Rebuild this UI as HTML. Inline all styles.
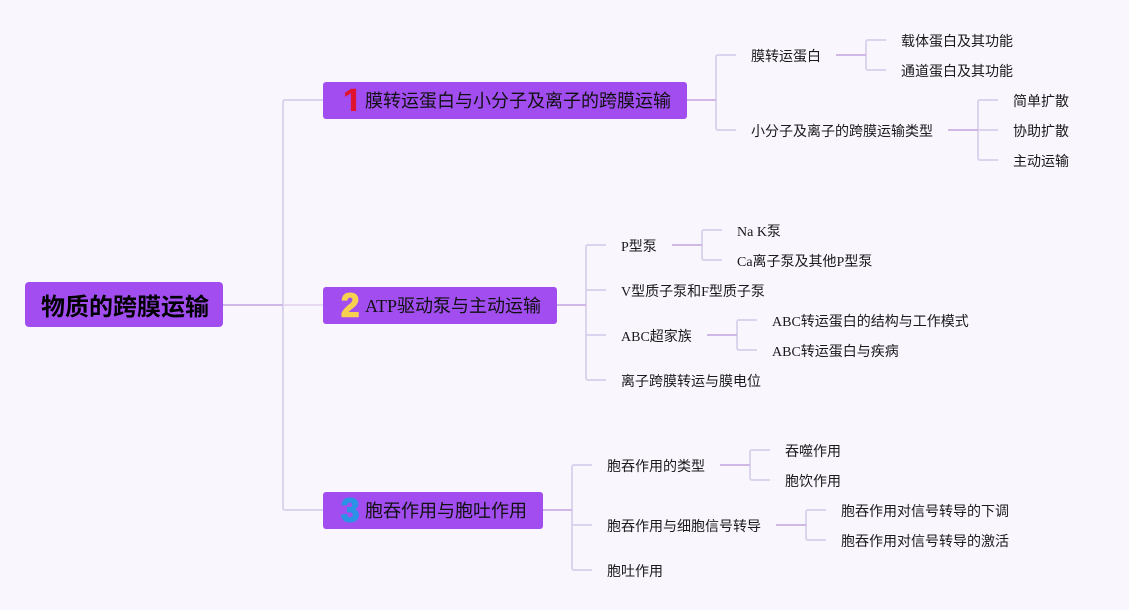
<!DOCTYPE html>
<html><head><meta charset="utf-8">
<style>
html,body{margin:0;padding:0;background:#f9f6fe;width:1129px;height:610px;overflow:hidden}
svg{display:block}
text{font-family:"Liberation Serif","Noto Sans CJK SC",serif;fill:#1a1a1a;font-size:14px}
.m{font-size:18px;fill:#111}
.r{font-size:24px;font-weight:bold;font-family:"Liberation Sans","Noto Sans CJK SC",sans-serif;fill:#000}
.n{font-size:33px;font-weight:bold;font-family:"Liberation Sans","Noto Sans CJK SC",sans-serif;stroke-width:1.4;stroke-linejoin:round}
.l{fill:none;stroke:#d8cfeb;stroke-width:1.7}
.h{fill:none;stroke:#cbb0e2;stroke-width:1.7}
rect{fill:#a14df0}
</style></head><body>
<svg width="1129" height="610" viewBox="0 0 1129 610" xmlns="http://www.w3.org/2000/svg">
<defs><clipPath id="c1"><rect x="345" y="86" width="12" height="25"/></clipPath></defs>
<rect width="1129" height="610" style="fill:#f9f6fe"/>
<!-- root connectors -->
<path class="l" d="M323 100H285Q283 100 283 102V508Q283 510 285 510H323"/>
<path class="l" d="M283 305H323" style="stroke:#e3d5f1"/>
<path class="h" d="M223 305H283"/>
<!-- branch 1 -->
<path class="l" d="M736 55H718Q716 55 716 57V128Q716 130 718 130H736"/>
<path class="h" d="M687 100H716"/>
<path class="l" d="M886 40H868Q866 40 866 42V68Q866 70 868 70H886"/>
<path class="h" d="M836 55H866"/>
<path class="l" d="M998 100H980Q978 100 978 102V158Q978 160 980 160H998M978 130H998"/>
<path class="h" d="M948 130H978"/>
<!-- branch 2 -->
<path class="l" d="M606 245H588Q586 245 586 247V378Q586 380 588 380H606M586 290H606M586 335H606"/>
<path class="h" d="M557 305H586"/>
<path class="l" d="M722 230H704Q702 230 702 232V258Q702 260 704 260H722"/>
<path class="h" d="M672 245H702"/>
<path class="l" d="M757 320H739Q737 320 737 322V348Q737 350 739 350H757"/>
<path class="h" d="M707 335H737"/>
<!-- branch 3 -->
<path class="l" d="M592 465H574Q572 465 572 467V568Q572 570 574 570H592M572 525H592"/>
<path class="h" d="M543 510H572"/>
<path class="l" d="M770 450H752Q750 450 750 452V478Q750 480 752 480H770"/>
<path class="h" d="M720 465H750"/>
<path class="l" d="M826 510H808Q806 510 806 512V538Q806 540 808 540H826"/>
<path class="h" d="M776 525H806"/>
<!-- nodes -->
<rect x="25" y="282" width="198" height="45" rx="4"/>
<text class="r" x="41" y="315">物质的跨膜运输</text>
<rect x="323" y="82" width="364" height="37" rx="3"/>
<text x="342" y="115" clip-path="url(#c1)" style="font-size:38px;font-weight:bold;font-family:'Liberation Sans',sans-serif;fill:#e0142e">1</text>
<text class="m" x="365" y="107">膜转运蛋白与小分子及离子的跨膜运输</text>
<rect x="323" y="287" width="234" height="37" rx="3"/>
<text class="n" x="341" y="316.500" style="fill:#f7d04f;stroke:#f7d04f">2</text>
<text class="m" x="365" y="312">ATP驱动泵与主动运输</text>
<rect x="323" y="492" width="220" height="37" rx="3"/>
<text class="n" x="341" y="521.500" style="fill:#2a93e6;stroke:#2a93e6">3</text>
<text class="m" x="365" y="517">胞吞作用与胞吐作用</text>
<!-- leaves -->
<text x="751" y="61">膜转运蛋白</text>
<text x="901" y="46">载体蛋白及其功能</text>
<text x="901" y="76">通道蛋白及其功能</text>
<text x="751" y="136">小分子及离子的跨膜运输类型</text>
<text x="1013" y="106">简单扩散</text>
<text x="1013" y="136">协助扩散</text>
<text x="1013" y="166">主动运输</text>
<text x="621" y="251">P型泵</text>
<text x="737" y="236">Na K泵</text>
<text x="737" y="266">Ca离子泵及其他P型泵</text>
<text x="621" y="296">V型质子泵和F型质子泵</text>
<text x="621" y="341">ABC超家族</text>
<text x="772" y="326">ABC转运蛋白的结构与工作模式</text>
<text x="772" y="356">ABC转运蛋白与疾病</text>
<text x="621" y="386">离子跨膜转运与膜电位</text>
<text x="607" y="471">胞吞作用的类型</text>
<text x="785" y="456">吞噬作用</text>
<text x="785" y="486">胞饮作用</text>
<text x="607" y="531">胞吞作用与细胞信号转导</text>
<text x="841" y="516">胞吞作用对信号转导的下调</text>
<text x="841" y="546">胞吞作用对信号转导的激活</text>
<text x="607" y="576">胞吐作用</text>
</svg>
</body></html>
